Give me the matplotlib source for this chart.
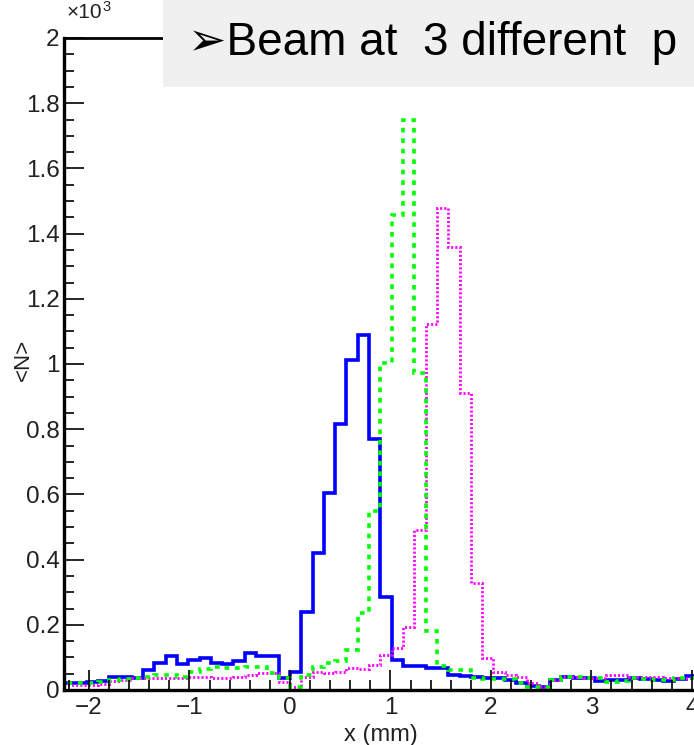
import numpy as np
import matplotlib
matplotlib.use("Agg")
import matplotlib.pyplot as plt
from matplotlib.patches import Rectangle
from matplotlib.ticker import MultipleLocator, FuncFormatter

plt.rcParams['font.family'] = ['Liberation Sans', 'DejaVu Sans']

# histogram binning: 60 bins from -2.25 to 4.5 mm
x_lo, x_hi, n_bins = -2.25, 4.5, 60

# <N> per bin, three beam positions
n_pos1 = [20, 20, 25, 29, 41, 41, 36, 61, 84, 104, 79, 92, 97, 84, 79, 90, 112, 104, 104, 36,
          56, 238, 419, 605, 815, 1012, 1089, 771, 286, 92, 74, 74, 67, 67, 46, 42, 40, 38, 36, 30,
          22, 12, 10, 30, 40, 38, 36, 28, 30, 32, 36, 34, 30, 28, 35, 43, 40, 38, 42, 40]
n_pos2 = [20, 20, 22, 25, 31, 33, 36, 40, 46, 46, 41, 56, 63, 71, 68, 66, 71, 71, 51, 37,
          10, 46, 71, 82, 89, 123, 236, 550, 1002, 1457, 1748, 971, 180, 74, 62, 60, 36, 33, 33, 34,
          20, 10, 10, 31, 39, 39, 36, 36, 25, 28, 36, 34, 31, 31, 36, 36, 34, 36, 33, 35]
n_pos3 = [15, 15, 15, 17, 29, 31, 36, 36, 36, 36, 38, 41, 40, 36, 36, 41, 45, 51, 51, 25,
          8, 40, 56, 53, 56, 66, 64, 77, 107, 128, 194, 491, 1123, 1477, 1360, 910, 327, 97, 56, 46,
          41, 20, 10, 31, 41, 41, 36, 36, 46, 46, 41, 41, 41, 36, 36, 36, 38, 36, 40, 37]

edges = np.linspace(x_lo, x_hi, n_bins + 1)

W, H = 694, 745
fig = plt.figure(figsize=(W / 100, H / 100), dpi=100)
# axes runs past the right edge of the picture (the reference is a crop)
left, right, bottom, top = 63.9, 742.1, 690, 38
ax = fig.add_axes([left / W, (H - bottom) / H, (right - left) / W, (bottom - top) / H])

ax.stairs(n_pos1, edges, color='#0000ff', linewidth=2.6, baseline=0)
ax.stairs(n_pos3, edges, color='#ff00ff', linewidth=2.0, linestyle=(0, (0.75, 0.75)), baseline=0)
ax.stairs(n_pos2, edges, color='#00ff00', linewidth=2.6, linestyle=(0, (1.3, 1.6)), baseline=0)

ax.set_xlim(x_lo, x_hi)
ax.set_ylim(0, 2000)

ax.xaxis.set_major_locator(MultipleLocator(1))
ax.xaxis.set_minor_locator(MultipleLocator(0.2))
ax.yaxis.set_major_locator(MultipleLocator(200))
ax.yaxis.set_minor_locator(MultipleLocator(50))
ax.yaxis.set_major_formatter(FuncFormatter(lambda v, p: f"{v / 1000:g}"))

ax.tick_params(which='both', direction='in', width=1.2, labelsize=17.5, top=False, right=False,
               labelcolor='#222222')
ax.tick_params(which='major', length=14.4)
ax.tick_params(which='minor', length=7.2)
ax.tick_params(axis='x', pad=5)
ax.tick_params(axis='y', pad=3)

ax.spines['left'].set_linewidth(2.4)
ax.spines['bottom'].set_linewidth(2.4)
ax.spines['top'].set_linewidth(2.0)
ax.spines['right'].set_linewidth(2.0)

fig.text(381 / W, 1 - 735 / H, "x (mm)", ha='center', va='center', fontsize=17, color='#222222')
fig.text(23 / W, 1 - 360 / H, "<N>", ha='center', va='center', rotation=90, fontsize=16,
         color='#222222')
# axis multiplier, drawn as base plus raised exponent
fig.text(67 / W, 1 - 18 / H, "×10", ha='left', va='baseline', fontsize=15, color='#222222')
fig.text(102 / W, 1 - 11 / H, "3", ha='left', va='baseline', fontsize=10.5, color='#222222')

# grey title box over the top of the frame
fig.add_artist(Rectangle((163 / W, 1 - 87 / H), 1, 87 / H, transform=fig.transFigure,
                         facecolor='#f0f0f0', edgecolor='none', zorder=5))
fig.text(188 / W, 1 - 55 / H, "➢Beam at  3 different  p", ha='left', va='baseline',
         fontsize=33, zorder=6)

fig.savefig("out.png", dpi=100)
